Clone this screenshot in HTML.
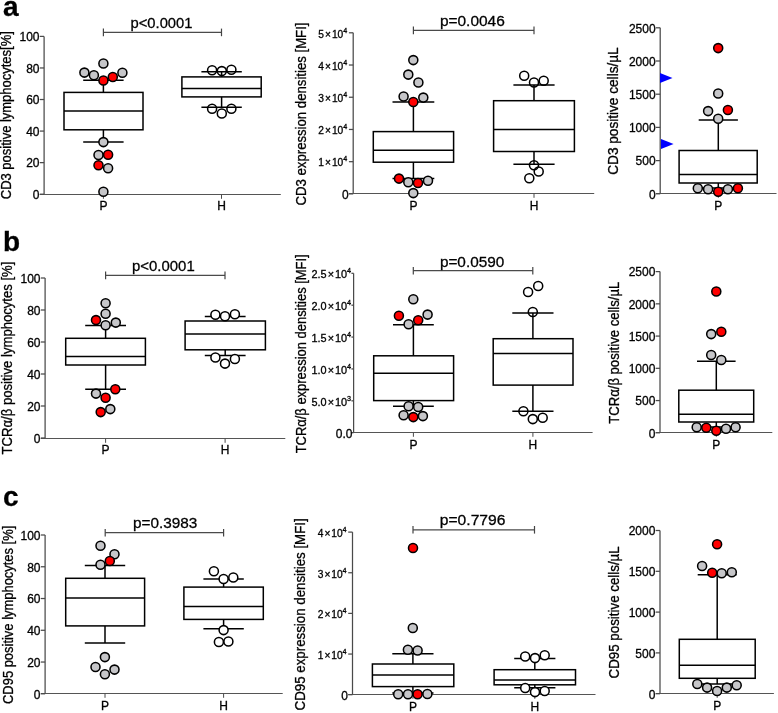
<!DOCTYPE html>
<html><head><meta charset="utf-8"><style>
html,body{margin:0;padding:0;background:#fff;}
svg{display:block;}
text{font-family:"Liberation Sans",sans-serif;fill:#000;stroke:#000;stroke-width:0.3px;}
.t{filter:grayscale(1);}
</style></head><body>
<svg width="778" height="713" viewBox="0 0 778 713">
<rect width="778" height="713" fill="#fff"/>
<line x1="44.10" y1="36.40" x2="44.10" y2="194.20" stroke="#4a4a4a" stroke-width="1.25"/>
<line x1="39.80" y1="194.50" x2="280.80" y2="194.50" stroke="#555555" stroke-width="1.1"/>
<line x1="39.80" y1="194.20" x2="44.10" y2="194.20" stroke="#4a4a4a" stroke-width="1.25"/>
<line x1="39.80" y1="162.64" x2="44.10" y2="162.64" stroke="#4a4a4a" stroke-width="1.25"/>
<line x1="39.80" y1="131.08" x2="44.10" y2="131.08" stroke="#4a4a4a" stroke-width="1.25"/>
<line x1="39.80" y1="99.52" x2="44.10" y2="99.52" stroke="#4a4a4a" stroke-width="1.25"/>
<line x1="39.80" y1="67.96" x2="44.10" y2="67.96" stroke="#4a4a4a" stroke-width="1.25"/>
<line x1="39.80" y1="36.40" x2="44.10" y2="36.40" stroke="#4a4a4a" stroke-width="1.25"/>
<line x1="103.40" y1="194.50" x2="103.40" y2="198.80" stroke="#4a4a4a" stroke-width="1"/>
<line x1="221.50" y1="194.50" x2="221.50" y2="198.80" stroke="#4a4a4a" stroke-width="1"/>
<line x1="103.40" y1="92.40" x2="103.40" y2="80.30" stroke="#000" stroke-width="1.5"/>
<line x1="83.20" y1="80.30" x2="123.60" y2="80.30" stroke="#000" stroke-width="1.5"/>
<line x1="103.40" y1="129.80" x2="103.40" y2="142.10" stroke="#000" stroke-width="1.5"/>
<line x1="83.20" y1="142.10" x2="123.60" y2="142.10" stroke="#000" stroke-width="1.5"/>
<rect x="64.00" y="92.40" width="79.00" height="37.40" fill="none" stroke="#000" stroke-width="1.5"/>
<line x1="64.00" y1="110.90" x2="143.00" y2="110.90" stroke="#000" stroke-width="1.5"/>
<line x1="221.60" y1="76.90" x2="221.60" y2="71.80" stroke="#000" stroke-width="1.5"/>
<line x1="201.40" y1="71.80" x2="241.80" y2="71.80" stroke="#000" stroke-width="1.5"/>
<line x1="221.60" y1="96.90" x2="221.60" y2="107.30" stroke="#000" stroke-width="1.5"/>
<line x1="201.40" y1="107.30" x2="241.80" y2="107.30" stroke="#000" stroke-width="1.5"/>
<rect x="181.90" y="76.90" width="79.30" height="20.00" fill="none" stroke="#000" stroke-width="1.5"/>
<line x1="181.90" y1="88.50" x2="261.20" y2="88.50" stroke="#000" stroke-width="1.5"/>
<line x1="103.40" y1="32.40" x2="221.50" y2="32.40" stroke="#4a4a4a" stroke-width="1.2"/>
<line x1="103.40" y1="28.60" x2="103.40" y2="36.20" stroke="#444" stroke-width="1.2"/>
<line x1="221.50" y1="28.60" x2="221.50" y2="36.20" stroke="#444" stroke-width="1.2"/>
<circle cx="103.40" cy="63.50" r="4.5" fill="#c6c6c9" stroke="#000" stroke-width="1.55"/>
<circle cx="84.40" cy="72.60" r="4.5" fill="#c6c6c9" stroke="#000" stroke-width="1.55"/>
<circle cx="93.90" cy="75.30" r="4.5" fill="#c6c6c9" stroke="#000" stroke-width="1.55"/>
<circle cx="103.40" cy="80.40" r="4.5" fill="#ff0000" stroke="#000" stroke-width="1.55"/>
<circle cx="112.80" cy="76.90" r="4.5" fill="#ff0000" stroke="#000" stroke-width="1.55"/>
<circle cx="122.40" cy="72.70" r="4.5" fill="#c6c6c9" stroke="#000" stroke-width="1.55"/>
<circle cx="103.40" cy="142.10" r="4.5" fill="#c6c6c9" stroke="#000" stroke-width="1.55"/>
<circle cx="98.50" cy="155.00" r="4.5" fill="#c6c6c9" stroke="#000" stroke-width="1.55"/>
<circle cx="108.10" cy="154.70" r="4.5" fill="#ff0000" stroke="#000" stroke-width="1.55"/>
<circle cx="98.50" cy="165.20" r="4.5" fill="#ff0000" stroke="#000" stroke-width="1.55"/>
<circle cx="108.10" cy="168.20" r="4.5" fill="#c6c6c9" stroke="#000" stroke-width="1.55"/>
<circle cx="103.40" cy="191.80" r="4.5" fill="#c6c6c9" stroke="#000" stroke-width="1.55"/>
<circle cx="212.10" cy="70.20" r="4.5" fill="none" stroke="#000" stroke-width="1.55"/>
<circle cx="221.80" cy="71.10" r="4.5" fill="none" stroke="#000" stroke-width="1.55"/>
<circle cx="231.40" cy="69.80" r="4.5" fill="none" stroke="#000" stroke-width="1.55"/>
<circle cx="212.10" cy="108.70" r="4.5" fill="none" stroke="#000" stroke-width="1.55"/>
<circle cx="221.80" cy="113.50" r="4.5" fill="none" stroke="#000" stroke-width="1.55"/>
<circle cx="231.40" cy="108.70" r="4.5" fill="none" stroke="#000" stroke-width="1.55"/>
<line x1="353.20" y1="32.80" x2="353.20" y2="193.90" stroke="#4a4a4a" stroke-width="1.25"/>
<line x1="348.90" y1="193.50" x2="594.20" y2="193.50" stroke="#555555" stroke-width="1.1"/>
<line x1="348.90" y1="193.90" x2="353.20" y2="193.90" stroke="#4a4a4a" stroke-width="1.25"/>
<line x1="348.90" y1="161.68" x2="353.20" y2="161.68" stroke="#4a4a4a" stroke-width="1.25"/>
<line x1="348.90" y1="129.46" x2="353.20" y2="129.46" stroke="#4a4a4a" stroke-width="1.25"/>
<line x1="348.90" y1="97.24" x2="353.20" y2="97.24" stroke="#4a4a4a" stroke-width="1.25"/>
<line x1="348.90" y1="65.02" x2="353.20" y2="65.02" stroke="#4a4a4a" stroke-width="1.25"/>
<line x1="348.90" y1="32.80" x2="353.20" y2="32.80" stroke="#4a4a4a" stroke-width="1.25"/>
<line x1="413.40" y1="193.50" x2="413.40" y2="197.80" stroke="#4a4a4a" stroke-width="1"/>
<line x1="534.00" y1="193.50" x2="534.00" y2="197.80" stroke="#4a4a4a" stroke-width="1"/>
<line x1="413.40" y1="131.60" x2="413.40" y2="101.90" stroke="#000" stroke-width="1.5"/>
<line x1="392.50" y1="101.90" x2="434.30" y2="101.90" stroke="#000" stroke-width="1.5"/>
<line x1="413.40" y1="162.20" x2="413.40" y2="178.50" stroke="#000" stroke-width="1.5"/>
<line x1="392.50" y1="178.50" x2="434.30" y2="178.50" stroke="#000" stroke-width="1.5"/>
<rect x="373.30" y="131.60" width="80.30" height="30.60" fill="none" stroke="#000" stroke-width="1.5"/>
<line x1="373.30" y1="150.20" x2="453.60" y2="150.20" stroke="#000" stroke-width="1.5"/>
<line x1="534.00" y1="100.70" x2="534.00" y2="85.00" stroke="#000" stroke-width="1.5"/>
<line x1="513.40" y1="85.00" x2="554.60" y2="85.00" stroke="#000" stroke-width="1.5"/>
<line x1="534.00" y1="151.50" x2="534.00" y2="164.30" stroke="#000" stroke-width="1.5"/>
<line x1="513.40" y1="164.30" x2="554.60" y2="164.30" stroke="#000" stroke-width="1.5"/>
<rect x="493.60" y="100.70" width="80.80" height="50.80" fill="none" stroke="#000" stroke-width="1.5"/>
<line x1="493.60" y1="129.50" x2="574.40" y2="129.50" stroke="#000" stroke-width="1.5"/>
<line x1="413.40" y1="30.40" x2="534.00" y2="30.40" stroke="#4a4a4a" stroke-width="1.2"/>
<line x1="413.40" y1="26.60" x2="413.40" y2="34.20" stroke="#444" stroke-width="1.2"/>
<line x1="534.00" y1="26.60" x2="534.00" y2="34.20" stroke="#444" stroke-width="1.2"/>
<circle cx="413.30" cy="60.10" r="4.5" fill="#c6c6c9" stroke="#000" stroke-width="1.55"/>
<circle cx="408.30" cy="74.60" r="4.5" fill="#c6c6c9" stroke="#000" stroke-width="1.55"/>
<circle cx="418.40" cy="82.50" r="4.5" fill="#c6c6c9" stroke="#000" stroke-width="1.55"/>
<circle cx="403.60" cy="96.50" r="4.5" fill="#c6c6c9" stroke="#000" stroke-width="1.55"/>
<circle cx="423.30" cy="97.60" r="4.5" fill="#c6c6c9" stroke="#000" stroke-width="1.55"/>
<circle cx="413.30" cy="101.90" r="4.5" fill="#ff0000" stroke="#000" stroke-width="1.55"/>
<circle cx="399.00" cy="178.60" r="4.5" fill="#ff0000" stroke="#000" stroke-width="1.55"/>
<circle cx="408.30" cy="182.20" r="4.5" fill="#c6c6c9" stroke="#000" stroke-width="1.55"/>
<circle cx="418.00" cy="183.00" r="4.5" fill="#ff0000" stroke="#000" stroke-width="1.55"/>
<circle cx="428.00" cy="180.80" r="4.5" fill="#c6c6c9" stroke="#000" stroke-width="1.55"/>
<circle cx="413.30" cy="193.10" r="4.5" fill="#c6c6c9" stroke="#000" stroke-width="1.55"/>
<circle cx="524.20" cy="75.80" r="4.5" fill="none" stroke="#000" stroke-width="1.55"/>
<circle cx="534.00" cy="82.50" r="4.5" fill="none" stroke="#000" stroke-width="1.55"/>
<circle cx="543.70" cy="80.80" r="4.5" fill="none" stroke="#000" stroke-width="1.55"/>
<circle cx="534.00" cy="165.30" r="4.5" fill="none" stroke="#000" stroke-width="1.55"/>
<circle cx="538.70" cy="171.50" r="4.5" fill="none" stroke="#000" stroke-width="1.55"/>
<circle cx="529.30" cy="178.30" r="4.5" fill="none" stroke="#000" stroke-width="1.55"/>
<line x1="660.20" y1="27.80" x2="660.20" y2="193.80" stroke="#4a4a4a" stroke-width="1.25"/>
<line x1="655.90" y1="193.50" x2="776.50" y2="193.50" stroke="#555555" stroke-width="1.1"/>
<line x1="655.90" y1="193.80" x2="660.20" y2="193.80" stroke="#4a4a4a" stroke-width="1.25"/>
<line x1="655.90" y1="160.60" x2="660.20" y2="160.60" stroke="#4a4a4a" stroke-width="1.25"/>
<line x1="655.90" y1="127.40" x2="660.20" y2="127.40" stroke="#4a4a4a" stroke-width="1.25"/>
<line x1="655.90" y1="94.20" x2="660.20" y2="94.20" stroke="#4a4a4a" stroke-width="1.25"/>
<line x1="655.90" y1="61.00" x2="660.20" y2="61.00" stroke="#4a4a4a" stroke-width="1.25"/>
<line x1="655.90" y1="27.80" x2="660.20" y2="27.80" stroke="#4a4a4a" stroke-width="1.25"/>
<line x1="718.30" y1="193.50" x2="718.30" y2="197.80" stroke="#4a4a4a" stroke-width="1"/>
<line x1="718.30" y1="150.50" x2="718.30" y2="120.10" stroke="#000" stroke-width="1.5"/>
<line x1="698.70" y1="120.10" x2="737.90" y2="120.10" stroke="#000" stroke-width="1.5"/>
<line x1="718.30" y1="183.00" x2="718.30" y2="188.00" stroke="#000" stroke-width="1.5"/>
<line x1="698.70" y1="188.00" x2="737.90" y2="188.00" stroke="#000" stroke-width="1.5"/>
<rect x="679.10" y="150.50" width="78.10" height="32.50" fill="none" stroke="#000" stroke-width="1.5"/>
<line x1="679.10" y1="174.50" x2="757.20" y2="174.50" stroke="#000" stroke-width="1.5"/>
<circle cx="718.20" cy="48.10" r="4.5" fill="#ff0000" stroke="#000" stroke-width="1.55"/>
<circle cx="718.20" cy="93.40" r="4.5" fill="#c6c6c9" stroke="#000" stroke-width="1.55"/>
<circle cx="708.10" cy="111.10" r="4.5" fill="#c6c6c9" stroke="#000" stroke-width="1.55"/>
<circle cx="727.90" cy="110.00" r="4.5" fill="#ff0000" stroke="#000" stroke-width="1.55"/>
<circle cx="718.20" cy="118.80" r="4.5" fill="#c6c6c9" stroke="#000" stroke-width="1.55"/>
<circle cx="697.80" cy="188.30" r="4.5" fill="#c6c6c9" stroke="#000" stroke-width="1.55"/>
<circle cx="708.10" cy="189.20" r="4.5" fill="#c6c6c9" stroke="#000" stroke-width="1.55"/>
<circle cx="718.20" cy="191.80" r="4.5" fill="#ff0000" stroke="#000" stroke-width="1.55"/>
<circle cx="727.90" cy="189.20" r="4.5" fill="#c6c6c9" stroke="#000" stroke-width="1.55"/>
<circle cx="737.90" cy="188.30" r="4.5" fill="#ff0000" stroke="#000" stroke-width="1.55"/>
<polygon points="660.00,72.90 660.00,83.10 672.50,78.10" fill="#0000ff"/>
<polygon points="661.00,138.90 661.00,149.10 673.60,144.00" fill="#0000ff"/>
<line x1="45.10" y1="278.00" x2="45.10" y2="438.00" stroke="#4a4a4a" stroke-width="1.25"/>
<line x1="40.80" y1="438.50" x2="285.30" y2="438.50" stroke="#555555" stroke-width="1.1"/>
<line x1="40.80" y1="438.00" x2="45.10" y2="438.00" stroke="#4a4a4a" stroke-width="1.25"/>
<line x1="40.80" y1="406.00" x2="45.10" y2="406.00" stroke="#4a4a4a" stroke-width="1.25"/>
<line x1="40.80" y1="374.00" x2="45.10" y2="374.00" stroke="#4a4a4a" stroke-width="1.25"/>
<line x1="40.80" y1="342.00" x2="45.10" y2="342.00" stroke="#4a4a4a" stroke-width="1.25"/>
<line x1="40.80" y1="310.00" x2="45.10" y2="310.00" stroke="#4a4a4a" stroke-width="1.25"/>
<line x1="40.80" y1="278.00" x2="45.10" y2="278.00" stroke="#4a4a4a" stroke-width="1.25"/>
<line x1="105.60" y1="438.50" x2="105.60" y2="442.80" stroke="#4a4a4a" stroke-width="1"/>
<line x1="225.10" y1="438.50" x2="225.10" y2="442.80" stroke="#4a4a4a" stroke-width="1"/>
<line x1="105.60" y1="338.30" x2="105.60" y2="325.50" stroke="#000" stroke-width="1.5"/>
<line x1="85.20" y1="325.50" x2="126.00" y2="325.50" stroke="#000" stroke-width="1.5"/>
<line x1="105.60" y1="365.00" x2="105.60" y2="389.20" stroke="#000" stroke-width="1.5"/>
<line x1="85.20" y1="389.20" x2="126.00" y2="389.20" stroke="#000" stroke-width="1.5"/>
<rect x="65.70" y="338.30" width="79.70" height="26.70" fill="none" stroke="#000" stroke-width="1.5"/>
<line x1="65.70" y1="356.40" x2="145.40" y2="356.40" stroke="#000" stroke-width="1.5"/>
<line x1="225.20" y1="321.00" x2="225.20" y2="316.50" stroke="#000" stroke-width="1.5"/>
<line x1="204.80" y1="316.50" x2="245.60" y2="316.50" stroke="#000" stroke-width="1.5"/>
<line x1="225.20" y1="349.80" x2="225.20" y2="355.60" stroke="#000" stroke-width="1.5"/>
<line x1="204.80" y1="355.60" x2="245.60" y2="355.60" stroke="#000" stroke-width="1.5"/>
<rect x="185.10" y="321.00" width="80.30" height="28.80" fill="none" stroke="#000" stroke-width="1.5"/>
<line x1="185.10" y1="333.90" x2="265.40" y2="333.90" stroke="#000" stroke-width="1.5"/>
<line x1="105.60" y1="275.40" x2="225.00" y2="275.40" stroke="#4a4a4a" stroke-width="1.2"/>
<line x1="105.60" y1="271.60" x2="105.60" y2="279.20" stroke="#444" stroke-width="1.2"/>
<line x1="225.00" y1="271.60" x2="225.00" y2="279.20" stroke="#444" stroke-width="1.2"/>
<circle cx="105.60" cy="303.30" r="4.5" fill="#c6c6c9" stroke="#000" stroke-width="1.55"/>
<circle cx="105.60" cy="313.70" r="4.5" fill="#c6c6c9" stroke="#000" stroke-width="1.55"/>
<circle cx="96.00" cy="320.10" r="4.5" fill="#ff0000" stroke="#000" stroke-width="1.55"/>
<circle cx="105.60" cy="325.20" r="4.5" fill="#c6c6c9" stroke="#000" stroke-width="1.55"/>
<circle cx="115.80" cy="322.60" r="4.5" fill="#c6c6c9" stroke="#000" stroke-width="1.55"/>
<circle cx="96.00" cy="393.60" r="4.5" fill="#c6c6c9" stroke="#000" stroke-width="1.55"/>
<circle cx="115.30" cy="389.20" r="4.5" fill="#ff0000" stroke="#000" stroke-width="1.55"/>
<circle cx="105.60" cy="397.80" r="4.5" fill="#ff0000" stroke="#000" stroke-width="1.55"/>
<circle cx="110.30" cy="409.10" r="4.5" fill="#c6c6c9" stroke="#000" stroke-width="1.55"/>
<circle cx="100.70" cy="412.10" r="4.5" fill="#ff0000" stroke="#000" stroke-width="1.55"/>
<circle cx="215.40" cy="314.80" r="4.5" fill="#fff" stroke="#000" stroke-width="1.55"/>
<circle cx="225.00" cy="316.30" r="4.5" fill="#fff" stroke="#000" stroke-width="1.55"/>
<circle cx="234.90" cy="314.20" r="4.5" fill="#fff" stroke="#000" stroke-width="1.55"/>
<circle cx="215.40" cy="357.40" r="4.5" fill="#fff" stroke="#000" stroke-width="1.55"/>
<circle cx="225.00" cy="363.60" r="4.5" fill="#fff" stroke="#000" stroke-width="1.55"/>
<circle cx="234.90" cy="359.00" r="4.5" fill="#fff" stroke="#000" stroke-width="1.55"/>
<line x1="353.60" y1="273.30" x2="353.60" y2="432.70" stroke="#4a4a4a" stroke-width="1.25"/>
<line x1="351.40" y1="432.50" x2="592.60" y2="432.50" stroke="#555555" stroke-width="1.1"/>
<line x1="351.40" y1="432.70" x2="353.60" y2="432.70" stroke="#4a4a4a" stroke-width="1.25"/>
<line x1="351.40" y1="400.82" x2="353.60" y2="400.82" stroke="#4a4a4a" stroke-width="1.25"/>
<line x1="351.40" y1="368.94" x2="353.60" y2="368.94" stroke="#4a4a4a" stroke-width="1.25"/>
<line x1="351.40" y1="337.06" x2="353.60" y2="337.06" stroke="#4a4a4a" stroke-width="1.25"/>
<line x1="351.40" y1="305.18" x2="353.60" y2="305.18" stroke="#4a4a4a" stroke-width="1.25"/>
<line x1="351.40" y1="273.30" x2="353.60" y2="273.30" stroke="#4a4a4a" stroke-width="1.25"/>
<line x1="413.40" y1="432.50" x2="413.40" y2="436.80" stroke="#4a4a4a" stroke-width="1"/>
<line x1="532.90" y1="432.50" x2="532.90" y2="436.80" stroke="#4a4a4a" stroke-width="1"/>
<line x1="413.40" y1="355.80" x2="413.40" y2="324.70" stroke="#000" stroke-width="1.5"/>
<line x1="393.00" y1="324.70" x2="433.80" y2="324.70" stroke="#000" stroke-width="1.5"/>
<line x1="413.40" y1="400.60" x2="413.40" y2="406.20" stroke="#000" stroke-width="1.5"/>
<line x1="393.00" y1="406.20" x2="433.80" y2="406.20" stroke="#000" stroke-width="1.5"/>
<rect x="373.70" y="355.80" width="79.90" height="44.80" fill="none" stroke="#000" stroke-width="1.5"/>
<line x1="373.70" y1="373.20" x2="453.60" y2="373.20" stroke="#000" stroke-width="1.5"/>
<line x1="532.90" y1="338.70" x2="532.90" y2="312.90" stroke="#000" stroke-width="1.5"/>
<line x1="512.30" y1="312.90" x2="553.50" y2="312.90" stroke="#000" stroke-width="1.5"/>
<line x1="532.90" y1="385.10" x2="532.90" y2="411.20" stroke="#000" stroke-width="1.5"/>
<line x1="512.30" y1="411.20" x2="553.50" y2="411.20" stroke="#000" stroke-width="1.5"/>
<rect x="493.20" y="338.70" width="79.80" height="46.40" fill="none" stroke="#000" stroke-width="1.5"/>
<line x1="493.20" y1="353.40" x2="573.00" y2="353.40" stroke="#000" stroke-width="1.5"/>
<line x1="413.30" y1="270.70" x2="532.80" y2="270.70" stroke="#4a4a4a" stroke-width="1.2"/>
<line x1="413.30" y1="266.90" x2="413.30" y2="274.50" stroke="#444" stroke-width="1.2"/>
<line x1="532.80" y1="266.90" x2="532.80" y2="274.50" stroke="#444" stroke-width="1.2"/>
<circle cx="413.30" cy="299.30" r="4.5" fill="#c6c6c9" stroke="#000" stroke-width="1.55"/>
<circle cx="398.90" cy="315.80" r="4.5" fill="#ff0000" stroke="#000" stroke-width="1.55"/>
<circle cx="427.60" cy="314.60" r="4.5" fill="#c6c6c9" stroke="#000" stroke-width="1.55"/>
<circle cx="418.20" cy="320.30" r="4.5" fill="#ff0000" stroke="#000" stroke-width="1.55"/>
<circle cx="408.60" cy="324.20" r="4.5" fill="#c6c6c9" stroke="#000" stroke-width="1.55"/>
<circle cx="408.60" cy="406.20" r="4.5" fill="#c6c6c9" stroke="#000" stroke-width="1.55"/>
<circle cx="418.20" cy="407.00" r="4.5" fill="#c6c6c9" stroke="#000" stroke-width="1.55"/>
<circle cx="403.60" cy="415.30" r="4.5" fill="#c6c6c9" stroke="#000" stroke-width="1.55"/>
<circle cx="413.30" cy="417.10" r="4.5" fill="#ff0000" stroke="#000" stroke-width="1.55"/>
<circle cx="422.90" cy="416.10" r="4.5" fill="#c6c6c9" stroke="#000" stroke-width="1.55"/>
<circle cx="528.10" cy="291.90" r="4.5" fill="none" stroke="#000" stroke-width="1.55"/>
<circle cx="538.20" cy="286.00" r="4.5" fill="none" stroke="#000" stroke-width="1.55"/>
<circle cx="532.80" cy="311.90" r="4.5" fill="none" stroke="#000" stroke-width="1.55"/>
<circle cx="523.40" cy="411.20" r="4.5" fill="none" stroke="#000" stroke-width="1.55"/>
<circle cx="532.80" cy="419.10" r="4.5" fill="none" stroke="#000" stroke-width="1.55"/>
<circle cx="542.70" cy="417.80" r="4.5" fill="none" stroke="#000" stroke-width="1.55"/>
<line x1="660.00" y1="271.60" x2="660.00" y2="432.80" stroke="#4a4a4a" stroke-width="1.25"/>
<line x1="655.70" y1="432.50" x2="772.30" y2="432.50" stroke="#555555" stroke-width="1.1"/>
<line x1="655.70" y1="432.80" x2="660.00" y2="432.80" stroke="#4a4a4a" stroke-width="1.25"/>
<line x1="655.70" y1="400.56" x2="660.00" y2="400.56" stroke="#4a4a4a" stroke-width="1.25"/>
<line x1="655.70" y1="368.32" x2="660.00" y2="368.32" stroke="#4a4a4a" stroke-width="1.25"/>
<line x1="655.70" y1="336.08" x2="660.00" y2="336.08" stroke="#4a4a4a" stroke-width="1.25"/>
<line x1="655.70" y1="303.84" x2="660.00" y2="303.84" stroke="#4a4a4a" stroke-width="1.25"/>
<line x1="655.70" y1="271.60" x2="660.00" y2="271.60" stroke="#4a4a4a" stroke-width="1.25"/>
<line x1="716.30" y1="432.50" x2="716.30" y2="436.80" stroke="#4a4a4a" stroke-width="1"/>
<line x1="716.30" y1="390.20" x2="716.30" y2="361.30" stroke="#000" stroke-width="1.5"/>
<line x1="697.00" y1="361.30" x2="735.60" y2="361.30" stroke="#000" stroke-width="1.5"/>
<line x1="716.30" y1="422.00" x2="716.30" y2="427.00" stroke="#000" stroke-width="1.5"/>
<line x1="697.00" y1="427.00" x2="735.60" y2="427.00" stroke="#000" stroke-width="1.5"/>
<rect x="678.80" y="390.20" width="74.90" height="31.80" fill="none" stroke="#000" stroke-width="1.5"/>
<line x1="678.80" y1="414.30" x2="753.70" y2="414.30" stroke="#000" stroke-width="1.5"/>
<circle cx="716.30" cy="291.40" r="4.5" fill="#ff0000" stroke="#000" stroke-width="1.55"/>
<circle cx="711.20" cy="334.10" r="4.5" fill="#c6c6c9" stroke="#000" stroke-width="1.55"/>
<circle cx="721.30" cy="331.80" r="4.5" fill="#ff0000" stroke="#000" stroke-width="1.55"/>
<circle cx="711.20" cy="355.00" r="4.5" fill="#c6c6c9" stroke="#000" stroke-width="1.55"/>
<circle cx="721.30" cy="360.00" r="4.5" fill="#c6c6c9" stroke="#000" stroke-width="1.55"/>
<circle cx="696.70" cy="427.20" r="4.5" fill="#c6c6c9" stroke="#000" stroke-width="1.55"/>
<circle cx="706.30" cy="427.70" r="4.5" fill="#ff0000" stroke="#000" stroke-width="1.55"/>
<circle cx="716.30" cy="430.70" r="4.5" fill="#ff0000" stroke="#000" stroke-width="1.55"/>
<circle cx="726.00" cy="428.70" r="4.5" fill="#c6c6c9" stroke="#000" stroke-width="1.55"/>
<circle cx="735.60" cy="427.20" r="4.5" fill="#c6c6c9" stroke="#000" stroke-width="1.55"/>
<line x1="45.10" y1="535.00" x2="45.10" y2="693.80" stroke="#4a4a4a" stroke-width="1.25"/>
<line x1="40.80" y1="693.50" x2="282.70" y2="693.50" stroke="#555555" stroke-width="1.1"/>
<line x1="40.80" y1="693.80" x2="45.10" y2="693.80" stroke="#4a4a4a" stroke-width="1.25"/>
<line x1="40.80" y1="662.04" x2="45.10" y2="662.04" stroke="#4a4a4a" stroke-width="1.25"/>
<line x1="40.80" y1="630.28" x2="45.10" y2="630.28" stroke="#4a4a4a" stroke-width="1.25"/>
<line x1="40.80" y1="598.52" x2="45.10" y2="598.52" stroke="#4a4a4a" stroke-width="1.25"/>
<line x1="40.80" y1="566.76" x2="45.10" y2="566.76" stroke="#4a4a4a" stroke-width="1.25"/>
<line x1="40.80" y1="535.00" x2="45.10" y2="535.00" stroke="#4a4a4a" stroke-width="1.25"/>
<line x1="105.00" y1="693.50" x2="105.00" y2="697.80" stroke="#4a4a4a" stroke-width="1"/>
<line x1="223.60" y1="693.50" x2="223.60" y2="697.80" stroke="#4a4a4a" stroke-width="1"/>
<line x1="105.00" y1="578.30" x2="105.00" y2="565.60" stroke="#000" stroke-width="1.5"/>
<line x1="84.80" y1="565.60" x2="125.20" y2="565.60" stroke="#000" stroke-width="1.5"/>
<line x1="105.00" y1="625.90" x2="105.00" y2="643.10" stroke="#000" stroke-width="1.5"/>
<line x1="84.80" y1="643.10" x2="125.20" y2="643.10" stroke="#000" stroke-width="1.5"/>
<rect x="65.70" y="578.30" width="78.90" height="47.60" fill="none" stroke="#000" stroke-width="1.5"/>
<line x1="65.70" y1="597.90" x2="144.60" y2="597.90" stroke="#000" stroke-width="1.5"/>
<line x1="223.60" y1="587.10" x2="223.60" y2="579.10" stroke="#000" stroke-width="1.5"/>
<line x1="203.40" y1="579.10" x2="243.80" y2="579.10" stroke="#000" stroke-width="1.5"/>
<line x1="223.60" y1="619.40" x2="223.60" y2="628.70" stroke="#000" stroke-width="1.5"/>
<line x1="203.40" y1="628.70" x2="243.80" y2="628.70" stroke="#000" stroke-width="1.5"/>
<rect x="183.90" y="587.10" width="79.40" height="32.30" fill="none" stroke="#000" stroke-width="1.5"/>
<line x1="183.90" y1="606.50" x2="263.30" y2="606.50" stroke="#000" stroke-width="1.5"/>
<line x1="105.20" y1="532.70" x2="223.60" y2="532.70" stroke="#4a4a4a" stroke-width="1.2"/>
<line x1="105.20" y1="528.90" x2="105.20" y2="536.50" stroke="#444" stroke-width="1.2"/>
<line x1="223.60" y1="528.90" x2="223.60" y2="536.50" stroke="#444" stroke-width="1.2"/>
<circle cx="100.50" cy="545.80" r="4.5" fill="#c6c6c9" stroke="#000" stroke-width="1.55"/>
<circle cx="114.50" cy="554.20" r="4.5" fill="#c6c6c9" stroke="#000" stroke-width="1.55"/>
<circle cx="109.80" cy="560.90" r="4.5" fill="#ff0000" stroke="#000" stroke-width="1.55"/>
<circle cx="100.50" cy="564.80" r="4.5" fill="#c6c6c9" stroke="#000" stroke-width="1.55"/>
<circle cx="104.90" cy="657.10" r="4.5" fill="#c6c6c9" stroke="#000" stroke-width="1.55"/>
<circle cx="95.50" cy="667.00" r="4.5" fill="#c6c6c9" stroke="#000" stroke-width="1.55"/>
<circle cx="114.50" cy="669.60" r="4.5" fill="#c6c6c9" stroke="#000" stroke-width="1.55"/>
<circle cx="104.90" cy="674.30" r="4.5" fill="#c6c6c9" stroke="#000" stroke-width="1.55"/>
<circle cx="213.90" cy="571.30" r="4.5" fill="#fff" stroke="#000" stroke-width="1.55"/>
<circle cx="223.60" cy="578.90" r="4.5" fill="#fff" stroke="#000" stroke-width="1.55"/>
<circle cx="233.30" cy="577.40" r="4.5" fill="#fff" stroke="#000" stroke-width="1.55"/>
<circle cx="223.60" cy="630.10" r="4.5" fill="#fff" stroke="#000" stroke-width="1.55"/>
<circle cx="218.90" cy="642.00" r="4.5" fill="#fff" stroke="#000" stroke-width="1.55"/>
<circle cx="228.40" cy="641.40" r="4.5" fill="#fff" stroke="#000" stroke-width="1.55"/>
<line x1="352.50" y1="532.10" x2="352.50" y2="694.70" stroke="#4a4a4a" stroke-width="1.25"/>
<line x1="348.20" y1="694.50" x2="595.50" y2="694.50" stroke="#555555" stroke-width="1.1"/>
<line x1="348.20" y1="694.70" x2="352.50" y2="694.70" stroke="#4a4a4a" stroke-width="1.25"/>
<line x1="348.20" y1="654.05" x2="352.50" y2="654.05" stroke="#4a4a4a" stroke-width="1.25"/>
<line x1="348.20" y1="613.40" x2="352.50" y2="613.40" stroke="#4a4a4a" stroke-width="1.25"/>
<line x1="348.20" y1="572.75" x2="352.50" y2="572.75" stroke="#4a4a4a" stroke-width="1.25"/>
<line x1="348.20" y1="532.10" x2="352.50" y2="532.10" stroke="#4a4a4a" stroke-width="1.25"/>
<line x1="412.90" y1="694.50" x2="412.90" y2="698.80" stroke="#4a4a4a" stroke-width="1"/>
<line x1="534.80" y1="694.50" x2="534.80" y2="698.80" stroke="#4a4a4a" stroke-width="1"/>
<line x1="412.90" y1="664.00" x2="412.90" y2="653.80" stroke="#000" stroke-width="1.5"/>
<line x1="392.30" y1="653.80" x2="433.50" y2="653.80" stroke="#000" stroke-width="1.5"/>
<line x1="412.90" y1="686.60" x2="412.90" y2="693.00" stroke="#000" stroke-width="1.5"/>
<line x1="392.30" y1="693.00" x2="433.50" y2="693.00" stroke="#000" stroke-width="1.5"/>
<rect x="372.40" y="664.00" width="81.40" height="22.60" fill="none" stroke="#000" stroke-width="1.5"/>
<line x1="372.40" y1="675.00" x2="453.80" y2="675.00" stroke="#000" stroke-width="1.5"/>
<line x1="534.80" y1="669.70" x2="534.80" y2="658.40" stroke="#000" stroke-width="1.5"/>
<line x1="514.20" y1="658.40" x2="555.40" y2="658.40" stroke="#000" stroke-width="1.5"/>
<line x1="534.80" y1="684.80" x2="534.80" y2="687.80" stroke="#000" stroke-width="1.5"/>
<line x1="514.20" y1="687.80" x2="555.40" y2="687.80" stroke="#000" stroke-width="1.5"/>
<rect x="494.10" y="669.70" width="81.40" height="15.10" fill="none" stroke="#000" stroke-width="1.5"/>
<line x1="494.10" y1="680.00" x2="575.50" y2="680.00" stroke="#000" stroke-width="1.5"/>
<line x1="413.00" y1="529.80" x2="534.50" y2="529.80" stroke="#4a4a4a" stroke-width="1.2"/>
<line x1="413.00" y1="526.00" x2="413.00" y2="533.60" stroke="#444" stroke-width="1.2"/>
<line x1="534.50" y1="526.00" x2="534.50" y2="533.60" stroke="#444" stroke-width="1.2"/>
<circle cx="413.00" cy="547.90" r="4.5" fill="#ff0000" stroke="#000" stroke-width="1.55"/>
<circle cx="412.80" cy="627.90" r="4.5" fill="#c6c6c9" stroke="#000" stroke-width="1.55"/>
<circle cx="407.90" cy="649.80" r="4.5" fill="#c6c6c9" stroke="#000" stroke-width="1.55"/>
<circle cx="417.60" cy="650.50" r="4.5" fill="#c6c6c9" stroke="#000" stroke-width="1.55"/>
<circle cx="398.20" cy="694.20" r="4.5" fill="#c6c6c9" stroke="#000" stroke-width="1.55"/>
<circle cx="408.00" cy="694.30" r="4.5" fill="#c6c6c9" stroke="#000" stroke-width="1.55"/>
<circle cx="417.60" cy="694.30" r="4.5" fill="#ff0000" stroke="#000" stroke-width="1.55"/>
<circle cx="427.40" cy="694.00" r="4.5" fill="#c6c6c9" stroke="#000" stroke-width="1.55"/>
<circle cx="525.20" cy="656.40" r="4.5" fill="#fff" stroke="#000" stroke-width="1.55"/>
<circle cx="535.00" cy="658.10" r="4.5" fill="#fff" stroke="#000" stroke-width="1.55"/>
<circle cx="544.70" cy="655.20" r="4.5" fill="#fff" stroke="#000" stroke-width="1.55"/>
<circle cx="525.20" cy="687.90" r="4.5" fill="#fff" stroke="#000" stroke-width="1.55"/>
<circle cx="535.00" cy="692.10" r="4.5" fill="#fff" stroke="#000" stroke-width="1.55"/>
<circle cx="544.70" cy="690.90" r="4.5" fill="#fff" stroke="#000" stroke-width="1.55"/>
<line x1="660.00" y1="530.50" x2="660.00" y2="693.70" stroke="#4a4a4a" stroke-width="1.25"/>
<line x1="655.70" y1="693.50" x2="773.90" y2="693.50" stroke="#555555" stroke-width="1.1"/>
<line x1="655.70" y1="693.70" x2="660.00" y2="693.70" stroke="#4a4a4a" stroke-width="1.25"/>
<line x1="655.70" y1="652.90" x2="660.00" y2="652.90" stroke="#4a4a4a" stroke-width="1.25"/>
<line x1="655.70" y1="612.10" x2="660.00" y2="612.10" stroke="#4a4a4a" stroke-width="1.25"/>
<line x1="655.70" y1="571.30" x2="660.00" y2="571.30" stroke="#4a4a4a" stroke-width="1.25"/>
<line x1="655.70" y1="530.50" x2="660.00" y2="530.50" stroke="#4a4a4a" stroke-width="1.25"/>
<line x1="717.20" y1="693.50" x2="717.20" y2="697.80" stroke="#4a4a4a" stroke-width="1"/>
<line x1="717.20" y1="639.30" x2="717.20" y2="574.80" stroke="#000" stroke-width="1.5"/>
<line x1="697.70" y1="574.80" x2="736.70" y2="574.80" stroke="#000" stroke-width="1.5"/>
<line x1="717.20" y1="678.30" x2="717.20" y2="684.00" stroke="#000" stroke-width="1.5"/>
<line x1="697.70" y1="684.00" x2="736.70" y2="684.00" stroke="#000" stroke-width="1.5"/>
<rect x="679.30" y="639.30" width="75.90" height="39.00" fill="none" stroke="#000" stroke-width="1.5"/>
<line x1="679.30" y1="665.20" x2="755.20" y2="665.20" stroke="#000" stroke-width="1.5"/>
<circle cx="717.10" cy="544.20" r="4.5" fill="#ff0000" stroke="#000" stroke-width="1.55"/>
<circle cx="702.10" cy="566.00" r="4.5" fill="#c6c6c9" stroke="#000" stroke-width="1.55"/>
<circle cx="712.20" cy="572.80" r="4.5" fill="#ff0000" stroke="#000" stroke-width="1.55"/>
<circle cx="721.70" cy="573.20" r="4.5" fill="#c6c6c9" stroke="#000" stroke-width="1.55"/>
<circle cx="731.80" cy="572.20" r="4.5" fill="#c6c6c9" stroke="#000" stroke-width="1.55"/>
<circle cx="697.30" cy="684.00" r="4.5" fill="#c6c6c9" stroke="#000" stroke-width="1.55"/>
<circle cx="707.10" cy="687.60" r="4.5" fill="#c6c6c9" stroke="#000" stroke-width="1.55"/>
<circle cx="717.10" cy="691.00" r="4.5" fill="#c6c6c9" stroke="#000" stroke-width="1.55"/>
<circle cx="726.80" cy="687.60" r="4.5" fill="#c6c6c9" stroke="#000" stroke-width="1.55"/>
<circle cx="736.70" cy="685.30" r="4.5" fill="#c6c6c9" stroke="#000" stroke-width="1.55"/>
<g class="t">
<text x="39.50" y="199.00" font-size="12" text-anchor="end" >0</text>
<text x="39.50" y="167.44" font-size="12" text-anchor="end" >20</text>
<text x="39.50" y="135.88" font-size="12" text-anchor="end" >40</text>
<text x="39.50" y="104.32" font-size="12" text-anchor="end" >60</text>
<text x="39.50" y="72.76" font-size="12" text-anchor="end" >80</text>
<text x="39.50" y="41.20" font-size="12" text-anchor="end" >100</text>
<text x="103.40" y="210.00" font-size="12" text-anchor="middle" >P</text>
<text x="221.50" y="210.00" font-size="12" text-anchor="middle" >H</text>
<text x="0" y="0" font-size="14" text-anchor="middle" textLength="168.00" lengthAdjust="spacingAndGlyphs" transform="translate(11.40,115.20) rotate(-90)">CD3 positive lymphocytes[%]</text>
<text x="161.50" y="27.90" font-size="15.5" text-anchor="middle" textLength="62.00" lengthAdjust="spacingAndGlyphs">p&lt;0.0001</text>
<text x="348.60" y="198.70" font-size="12" text-anchor="end" >0</text>
<text x="347.30" y="166.48" font-size="10.2" text-anchor="end">1<tspan dx="1.1">×</tspan><tspan dx="0.9">10</tspan><tspan font-size="7.2" dy="-5.0">4</tspan></text>
<text x="347.30" y="134.26" font-size="10.2" text-anchor="end">2<tspan dx="1.1">×</tspan><tspan dx="0.9">10</tspan><tspan font-size="7.2" dy="-5.0">4</tspan></text>
<text x="347.30" y="102.04" font-size="10.2" text-anchor="end">3<tspan dx="1.1">×</tspan><tspan dx="0.9">10</tspan><tspan font-size="7.2" dy="-5.0">4</tspan></text>
<text x="347.30" y="69.82" font-size="10.2" text-anchor="end">4<tspan dx="1.1">×</tspan><tspan dx="0.9">10</tspan><tspan font-size="7.2" dy="-5.0">4</tspan></text>
<text x="347.30" y="37.60" font-size="10.2" text-anchor="end">5<tspan dx="1.1">×</tspan><tspan dx="0.9">10</tspan><tspan font-size="7.2" dy="-5.0">4</tspan></text>
<text x="413.40" y="210.30" font-size="12" text-anchor="middle" >P</text>
<text x="534.00" y="210.30" font-size="12" text-anchor="middle" >H</text>
<text x="0" y="0" font-size="14" text-anchor="middle" textLength="183.00" lengthAdjust="spacingAndGlyphs" transform="translate(306.40,114.00) rotate(-90)">CD3 expression densities [MFI]</text>
<text x="472.35" y="26.20" font-size="15.5" text-anchor="middle" textLength="64.90" lengthAdjust="spacingAndGlyphs">p=0.0046</text>
<text x="655.60" y="198.60" font-size="12" text-anchor="end" >0</text>
<text x="655.60" y="165.40" font-size="12" text-anchor="end" >500</text>
<text x="655.60" y="132.20" font-size="12" text-anchor="end" >1000</text>
<text x="655.60" y="99.00" font-size="12" text-anchor="end" >1500</text>
<text x="655.60" y="65.80" font-size="12" text-anchor="end" >2000</text>
<text x="655.60" y="32.60" font-size="12" text-anchor="end" >2500</text>
<text x="718.30" y="210.20" font-size="12" text-anchor="middle" >P</text>
<text x="0" y="0" font-size="14" text-anchor="middle" textLength="127.50" lengthAdjust="spacingAndGlyphs" transform="translate(618.40,111.05) rotate(-90)">CD3 positive cells/µL</text>
<text x="40.50" y="442.80" font-size="12" text-anchor="end" >0</text>
<text x="40.50" y="410.80" font-size="12" text-anchor="end" >20</text>
<text x="40.50" y="378.80" font-size="12" text-anchor="end" >40</text>
<text x="40.50" y="346.80" font-size="12" text-anchor="end" >60</text>
<text x="40.50" y="314.80" font-size="12" text-anchor="end" >80</text>
<text x="40.50" y="282.80" font-size="12" text-anchor="end" >100</text>
<text x="105.60" y="454.40" font-size="12" text-anchor="middle" >P</text>
<text x="225.10" y="454.40" font-size="12" text-anchor="middle" >H</text>
<text x="0" y="0" font-size="14" text-anchor="middle" textLength="192.80" lengthAdjust="spacingAndGlyphs" transform="translate(11.70,358.00) rotate(-90)">TCRα/β positive lymphocytes [%]</text>
<text x="163.35" y="270.90" font-size="15.5" text-anchor="middle" textLength="62.70" lengthAdjust="spacingAndGlyphs">p&lt;0.0001</text>
<text x="352.40" y="437.50" font-size="12" text-anchor="end" >0.0</text>
<text x="351.10" y="405.62" font-size="10.9" text-anchor="end">5.0<tspan dx="1.1">×</tspan><tspan dx="0.9">10</tspan><tspan font-size="7.2" dy="-5.0">3</tspan></text>
<text x="351.10" y="373.74" font-size="10.9" text-anchor="end">1.0<tspan dx="1.1">×</tspan><tspan dx="0.9">10</tspan><tspan font-size="7.2" dy="-5.0">4</tspan></text>
<text x="351.10" y="341.86" font-size="10.9" text-anchor="end">1.5<tspan dx="1.1">×</tspan><tspan dx="0.9">10</tspan><tspan font-size="7.2" dy="-5.0">4</tspan></text>
<text x="351.10" y="309.98" font-size="10.9" text-anchor="end">2.0<tspan dx="1.1">×</tspan><tspan dx="0.9">10</tspan><tspan font-size="7.2" dy="-5.0">4</tspan></text>
<text x="351.10" y="278.10" font-size="10.9" text-anchor="end">2.5<tspan dx="1.1">×</tspan><tspan dx="0.9">10</tspan><tspan font-size="7.2" dy="-5.0">4</tspan></text>
<text x="413.40" y="449.10" font-size="12" text-anchor="middle" >P</text>
<text x="532.90" y="449.10" font-size="12" text-anchor="middle" >H</text>
<text x="0" y="0" font-size="14" text-anchor="middle" textLength="199.00" lengthAdjust="spacingAndGlyphs" transform="translate(306.40,353.80) rotate(-90)">TCRα/β expression densities [MFI]</text>
<text x="472.10" y="267.00" font-size="15.5" text-anchor="middle" textLength="64.40" lengthAdjust="spacingAndGlyphs">p=0.0590</text>
<text x="655.40" y="437.60" font-size="12" text-anchor="end" >0</text>
<text x="655.40" y="405.36" font-size="12" text-anchor="end" >500</text>
<text x="655.40" y="373.12" font-size="12" text-anchor="end" >1000</text>
<text x="655.40" y="340.88" font-size="12" text-anchor="end" >1500</text>
<text x="655.40" y="308.64" font-size="12" text-anchor="end" >2000</text>
<text x="655.40" y="276.40" font-size="12" text-anchor="end" >2500</text>
<text x="716.30" y="449.20" font-size="12" text-anchor="middle" >P</text>
<text x="0" y="0" font-size="14" text-anchor="middle" textLength="142.00" lengthAdjust="spacingAndGlyphs" transform="translate(619.10,352.70) rotate(-90)">TCRα/β positive cells/µL</text>
<text x="40.50" y="698.60" font-size="12" text-anchor="end" >0</text>
<text x="40.50" y="666.84" font-size="12" text-anchor="end" >20</text>
<text x="40.50" y="635.08" font-size="12" text-anchor="end" >40</text>
<text x="40.50" y="603.32" font-size="12" text-anchor="end" >60</text>
<text x="40.50" y="571.56" font-size="12" text-anchor="end" >80</text>
<text x="40.50" y="539.80" font-size="12" text-anchor="end" >100</text>
<text x="105.00" y="710.20" font-size="12" text-anchor="middle" >P</text>
<text x="223.60" y="710.20" font-size="12" text-anchor="middle" >H</text>
<text x="0" y="0" font-size="14" text-anchor="middle" textLength="178.30" lengthAdjust="spacingAndGlyphs" transform="translate(12.80,614.85) rotate(-90)">CD95 positive lymphocytes [%]</text>
<text x="165.15" y="528.10" font-size="15.5" text-anchor="middle" textLength="64.30" lengthAdjust="spacingAndGlyphs">p=0.3983</text>
<text x="347.90" y="699.50" font-size="12" text-anchor="end" >0</text>
<text x="346.60" y="658.85" font-size="10.2" text-anchor="end">1<tspan dx="1.1">×</tspan><tspan dx="0.9">10</tspan><tspan font-size="7.2" dy="-5.0">4</tspan></text>
<text x="346.60" y="618.20" font-size="10.2" text-anchor="end">2<tspan dx="1.1">×</tspan><tspan dx="0.9">10</tspan><tspan font-size="7.2" dy="-5.0">4</tspan></text>
<text x="346.60" y="577.55" font-size="10.2" text-anchor="end">3<tspan dx="1.1">×</tspan><tspan dx="0.9">10</tspan><tspan font-size="7.2" dy="-5.0">4</tspan></text>
<text x="346.60" y="536.90" font-size="10.2" text-anchor="end">4<tspan dx="1.1">×</tspan><tspan dx="0.9">10</tspan><tspan font-size="7.2" dy="-5.0">4</tspan></text>
<text x="412.90" y="711.10" font-size="12" text-anchor="middle" >P</text>
<text x="534.80" y="711.10" font-size="12" text-anchor="middle" >H</text>
<text x="0" y="0" font-size="14" text-anchor="middle" textLength="192.10" lengthAdjust="spacingAndGlyphs" transform="translate(305.00,614.35) rotate(-90)">CD95 expression densities [MFI]</text>
<text x="472.60" y="525.20" font-size="15.5" text-anchor="middle" textLength="65.60" lengthAdjust="spacingAndGlyphs">p=0.7796</text>
<text x="655.40" y="698.50" font-size="12" text-anchor="end" >0</text>
<text x="655.40" y="657.70" font-size="12" text-anchor="end" >500</text>
<text x="655.40" y="616.90" font-size="12" text-anchor="end" >1000</text>
<text x="655.40" y="576.10" font-size="12" text-anchor="end" >1500</text>
<text x="655.40" y="535.30" font-size="12" text-anchor="end" >2000</text>
<text x="717.20" y="710.10" font-size="12" text-anchor="middle" >P</text>
<text x="0" y="0" font-size="14" text-anchor="middle" textLength="132.10" lengthAdjust="spacingAndGlyphs" transform="translate(618.70,612.35) rotate(-90)">CD95 positive cells/µL</text>
<text x="3.0" y="16.2" font-size="28" font-weight="bold">a</text>
<text x="3.0" y="251.2" font-size="28" font-weight="bold">b</text>
<text x="3.0" y="506.3" font-size="28" font-weight="bold">c</text>
</g>
</svg>
</body></html>
